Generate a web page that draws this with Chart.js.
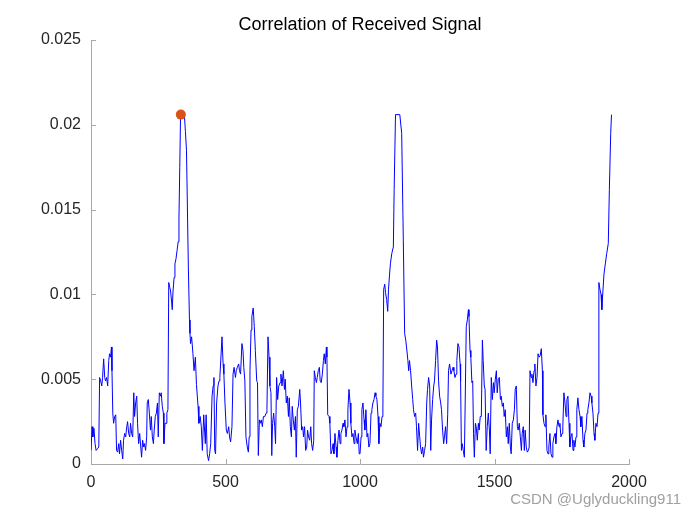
<!DOCTYPE html>
<html>
<head>
<meta charset="utf-8">
<script src="https://cdn.jsdelivr.net/npm/chart.js@4.4.1/dist/chart.umd.min.js"></script>
<style>
  html, body { margin: 0; padding: 0; background: #fff; }
  #wrap { width: 694px; height: 520px; }
</style>
</head>
<body>
<div id="wrap"><canvas id="corr-chart"></canvas></div>
<script>
// Correlation of received signal (values in units of 1e-3)
const SAMPLE_IDX = [
  0, 4, 7, 11, 15, 19, 24, 29, 32, 36, 40, 43, 47, 51, 54, 58, 62, 66, 69, 73,
  76, 78, 81, 84, 88, 92, 95, 99, 103, 106, 110, 114, 118, 121, 125, 129, 133, 136, 140, 144,
  147, 151, 155, 159, 162, 166, 170, 173, 177, 181, 185, 188, 192, 196, 199, 203, 207, 209, 213, 217,
  221, 224, 228, 232, 235, 239, 243, 247, 250, 254, 258, 261, 265, 269, 271, 275, 279, 282, 286, 289,
  293, 296, 300, 302, 305, 309, 312, 316, 320, 324, 327, 330, 333, 347, 351, 355, 359, 362, 366, 368,
  370, 374, 379, 383, 388, 392, 398, 401, 406, 410, 414, 419, 425, 428, 432, 437, 441, 445, 450, 454,
  457, 460, 463, 467, 472, 476, 479, 483, 487, 491, 494, 498, 503, 507, 512, 515, 519, 524, 528, 532,
  537, 540, 544, 549, 552, 556, 561, 565, 568, 572, 576, 581, 585, 588, 591, 595, 598, 603, 607, 611,
  616, 619, 622, 626, 629, 633, 637, 641, 646, 651, 654, 658, 662, 665, 669, 672, 675, 679, 683, 686,
  690, 694, 698, 703, 706, 710, 715, 719, 722, 726, 730, 734, 737, 741, 745, 748, 752, 756, 760, 763,
  767, 771, 776, 779, 783, 787, 790, 794, 798, 802, 805, 809, 813, 817, 820, 824, 828, 830, 834, 838,
  841, 845, 849, 852, 856, 860, 864, 867, 871, 875, 877, 880, 885, 888, 892, 896, 900, 903, 907, 911,
  914, 918, 922, 926, 929, 933, 937, 940, 944, 948, 952, 955, 959, 963, 966, 970, 974, 978, 981, 985,
  990, 994, 997, 1000, 1004, 1007, 1011, 1015, 1018, 1022, 1026, 1029, 1033, 1037, 1041, 1044, 1048, 1052, 1056, 1059,
  1063, 1067, 1070, 1074, 1078, 1082, 1085, 1088, 1092, 1095, 1099, 1103, 1106, 1110, 1113, 1118, 1124, 1127, 1132, 1148,
  1155, 1161, 1166, 1170, 1173, 1178, 1181, 1184, 1188, 1192, 1196, 1199, 1203, 1207, 1210, 1214, 1218, 1222, 1225, 1229,
  1233, 1236, 1240, 1244, 1248, 1251, 1255, 1259, 1263, 1266, 1270, 1274, 1277, 1281, 1285, 1288, 1292, 1296, 1300, 1303,
  1307, 1311, 1314, 1318, 1322, 1326, 1329, 1333, 1338, 1342, 1346, 1349, 1353, 1357, 1360, 1364, 1368, 1372, 1374, 1377,
  1380, 1384, 1388, 1391, 1395, 1399, 1403, 1405, 1409, 1412, 1416, 1419, 1422, 1425, 1429, 1432, 1436, 1440, 1443, 1447,
  1451, 1455, 1458, 1462, 1465, 1469, 1473, 1477, 1481, 1484, 1488, 1492, 1496, 1499, 1503, 1507, 1510, 1514, 1518, 1522,
  1525, 1529, 1533, 1536, 1540, 1544, 1548, 1551, 1555, 1559, 1562, 1566, 1570, 1574, 1577, 1581, 1585, 1588, 1592, 1596,
  1600, 1603, 1607, 1611, 1614, 1618, 1622, 1626, 1629, 1632, 1636, 1639, 1643, 1647, 1650, 1654, 1658, 1662, 1666, 1670,
  1674, 1678, 1680, 1684, 1688, 1691, 1695, 1699, 1702, 1706, 1710, 1714, 1717, 1721, 1725, 1728, 1732, 1736, 1740, 1743,
  1747, 1751, 1754, 1758, 1762, 1766, 1769, 1773, 1777, 1780, 1784, 1788, 1792, 1795, 1799, 1803, 1806, 1810, 1814, 1818,
  1821, 1825, 1829, 1832, 1836, 1840, 1844, 1847, 1851, 1855, 1859, 1862, 1866, 1870, 1873, 1877, 1881, 1885, 1888, 1892,
  1896, 1899, 1903, 1907, 1912, 1917, 1923, 1927, 1932, 1935
];
const CORR_MILLI = [
  0.8, 2.2, 1.6, 2.1, 1.2, 0.8, 0.9, 1.0, 5.1, 4.9, 4.6, 5.1, 6.2, 5.1, 4.9, 5.1, 4.6, 6.1, 6.5, 6.3,
  6.9, 5.5, 3.0, 2.4, 2.8, 2.9, 0.8, 0.7, 1.2, 0.6, 1.4, 0.8, 0.3, 1.4, 1.8, 1.6, 2.2, 2.5, 1.8, 1.6,
  2.4, 1.8, 1.6, 4.2, 2.8, 3.6, 4.0, 2.4, 1.2, 1.8, 1.0, 0.4, 1.4, 1.0, 1.2, 0.8, 1.6, 3.6, 3.8, 3.0,
  2.0, 2.8, 1.6, 1.2, 2.0, 2.8, 3.0, 3.6, 1.6, 4.2, 4.0, 4.2, 3.4, 3.0, 1.2, 2.4, 2.4, 3.0, 3.2, 10.7,
  10.4, 10.2, 9.5, 9.1, 10.2, 11.0, 11.8, 12.1, 12.6, 13.1, 14.5, 17.5, 20.6, 20.6, 19.6, 18.5, 14.5, 11.5, 8.5, 7.7,
  7.1, 7.5, 6.5, 5.5, 6.3, 4.7, 3.4, 2.4, 2.8, 2.2, 0.8, 2.9, 1.2, 2.9, 0.6, 0.2, 0.6, 1.2, 4.0, 4.6,
  5.1, 0.8, 0.6, 3.6, 4.6, 4.9, 5.1, 6.3, 7.5, 5.9, 5.3, 3.6, 2.0, 1.8, 2.2, 1.6, 1.3, 2.2, 5.3, 5.7,
  5.1, 5.5, 5.7, 5.9, 5.5, 5.3, 7.1, 6.7, 5.7, 4.9, 1.6, 1.0, 0.7, 1.6, 5.5, 7.9, 8.7, 9.2, 8.1, 6.7,
  4.9, 4.8, 0.5, 2.6, 2.4, 2.6, 2.2, 2.8, 2.8, 3.0, 3.2, 7.5, 6.3, 4.6, 4.2, 0.5, 2.4, 3.0, 2.2, 1.2,
  5.1, 3.8, 4.6, 4.8, 5.3, 4.6, 5.5, 4.4, 5.0, 3.6, 4.0, 2.8, 3.9, 2.2, 1.6, 3.4, 2.6, 2.0, 2.8, 0.4,
  3.2, 3.4, 4.4, 3.6, 2.0, 2.2, 1.6, 2.2, 0.8, 1.0, 2.0, 1.6, 1.4, 2.2, 1.2, 0.8, 1.4, 5.5, 5.1, 4.8,
  5.1, 5.5, 5.7, 4.9, 4.8, 5.3, 6.1, 6.5, 5.9, 6.9, 6.3, 2.9, 2.8, 2.4, 0.6, 0.8, 1.2, 0.6, 1.8, 1.0,
  0.4, 1.4, 2.0, 1.2, 1.8, 2.0, 2.4, 2.2, 2.6, 1.6, 2.2, 3.2, 4.4, 3.6, 2.4, 1.6, 1.8, 1.2, 2.0, 1.6,
  1.2, 1.8, 0.6, 0.6, 1.6, 3.2, 3.6, 2.6, 2.0, 3.2, 1.6, 1.8, 1.0, 1.2, 3.0, 3.2, 3.6, 3.8, 4.2, 4.0,
  3.8, 2.8, 1.2, 2.4, 2.2, 2.8, 3.0, 10.3, 10.6, 10.1, 9.7, 9.0, 10.3, 11.2, 11.8, 12.4, 12.8, 16.2, 20.6, 20.6,
  19.5, 13.2, 7.7, 7.3, 6.9, 6.1, 5.5, 6.1, 5.5, 4.6, 3.8, 3.2, 2.8, 3.0, 2.2, 0.8, 2.4, 1.6, 1.0, 0.6,
  1.0, 0.4, 0.8, 1.2, 3.6, 4.4, 5.1, 4.6, 0.8, 2.6, 3.8, 4.6, 4.9, 6.1, 7.3, 6.9, 4.9, 4.0, 3.6, 3.2,
  2.0, 1.2, 1.6, 2.2, 1.2, 2.9, 5.5, 5.9, 5.3, 5.5, 5.7, 5.5, 5.1, 5.3, 6.1, 7.1, 6.9, 5.9, 4.9, 0.8,
  1.2, 0.8, 0.4, 3.6, 8.1, 8.5, 9.1, 8.7, 6.7, 6.3, 4.8, 4.9, 1.8, 0.4, 2.4, 2.2, 1.4, 2.4, 2.0, 2.8,
  2.8, 7.3, 6.1, 4.6, 4.4, 0.8, 2.2, 3.0, 2.0, 0.6, 5.1, 3.8, 4.8, 4.2, 5.0, 5.5, 4.2, 5.0, 5.1, 3.8,
  4.0, 3.4, 3.6, 2.8, 3.2, 1.6, 2.2, 1.2, 2.4, 1.0, 0.6, 2.4, 2.6, 3.2, 4.4, 4.6, 2.2, 2.0, 2.4, 1.6,
  0.8, 1.8, 2.2, 0.8, 2.0, 1.0, 0.7, 0.8, 1.0, 5.5, 5.1, 5.3, 4.8, 5.5, 5.9, 4.6, 5.1, 6.5, 6.3, 6.4,
  6.8, 5.5, 2.9, 2.4, 2.2, 2.9, 0.8, 0.6, 1.0, 1.8, 0.6, 0.4, 1.2, 1.6, 1.8, 1.2, 2.2, 2.6, 2.2, 2.4,
  1.6, 1.8, 2.2, 4.2, 3.6, 2.8, 3.8, 4.0, 2.4, 1.0, 1.6, 1.8, 0.8, 1.4, 1.0, 1.6, 3.2, 3.9, 3.2, 2.8,
  2.2, 2.8, 1.4, 1.0, 1.8, 2.0, 3.0, 3.2, 3.6, 4.2, 4.0, 3.6, 3.0, 1.8, 1.4, 2.4, 2.2, 3.0, 10.7, 10.3,
  10.0, 9.1, 10.2, 11.2, 11.8, 12.4, 13.0, 16.2, 19.5, 20.6
];
// marked maximum
const PEAK_IDX = [334];
const PEAK_MILLI = [20.6];

const X_TICKS = [0, 500, 1000, 1500, 2000];
const X_TICK_LABELS = ["0", "500", "1000", "1500", "2000"];
const Y_TICKS = [0, 0.005, 0.01, 0.015, 0.02, 0.025];
const Y_TICK_LABELS = ["0", "0.005", "0.01", "0.015", "0.02", "0.025"];

const AXIS_COLOR = "#a8a8a8";
const TEXT_COLOR = "#262626";
const FONT = "'Liberation Sans', Arial, sans-serif";

// MATLAB style: ticks point into the plot, title and watermark drawn by hand
const matlabBits = {
  id: "matlabBits",
  afterDraw(chart) {
    const ctx = chart.ctx;
    const x = chart.scales.x, y = chart.scales.y;
    const area = chart.chartArea;
    ctx.save();
    ctx.strokeStyle = AXIS_COLOR;
    ctx.lineWidth = 1;
    ctx.beginPath();
    X_TICKS.forEach(v => {
      const px = Math.round(x.getPixelForValue(v)) + 0.5;
      ctx.moveTo(px, area.bottom);
      ctx.lineTo(px, area.bottom - 5);
    });
    Y_TICKS.forEach(v => {
      const py = Math.round(y.getPixelForValue(v)) + 0.5;
      ctx.moveTo(area.left, py);
      ctx.lineTo(area.left + 5, py);
    });
    ctx.stroke();

    ctx.fillStyle = "#000";
    ctx.font = "18px " + FONT;
    ctx.textAlign = "center";
    ctx.textBaseline = "middle";
    ctx.fillText("Correlation of Received Signal", (area.left + area.right) / 2, 25);

    ctx.fillStyle = "#a0a0a0";
    ctx.font = "15px " + FONT;
    ctx.textAlign = "right";
    ctx.fillText("CSDN @Uglyduckling911", 681, 500);
    ctx.restore();
  }
};

const ctx = document.getElementById("corr-chart").getContext("2d");
new Chart(ctx, {
  type: "line",
  data: {
    datasets: [
      {
        label: "peak",
        data: PEAK_IDX.map((v, i) => ({ x: v, y: PEAK_MILLI[i] * 1e-3 })),
        showLine: false,
        pointRadius: 5,
        pointBackgroundColor: "#D95319",
        pointBorderColor: "#D95319",
        pointBorderWidth: 0
      },
      {
        label: "corr",
        data: SAMPLE_IDX.map((v, i) => ({ x: v, y: CORR_MILLI[i] * 1e-3 })),
        borderColor: "#0000ff",
        borderWidth: 1,
        pointRadius: 0,
        tension: 0,
        fill: false
      }
    ]
  },
  options: {
    responsive: true,
    maintainAspectRatio: false,
    animation: false,
    layout: { padding: { left: 0, right: 65, top: 40, bottom: 0 } },
    plugins: {
      legend: { display: false },
      title: { display: false },
      tooltip: { enabled: false }
    },
    scales: {
      x: {
        type: "linear",
        min: 0,
        max: 2000,
        afterBuildTicks: s => { s.ticks = X_TICKS.map(v => ({ value: v })); },
        afterFit: s => { s.height = 56; },
        grid: { display: false, drawTicks: false },
        border: { display: true, color: AXIS_COLOR, width: 1 },
        ticks: {
          color: TEXT_COLOR,
          font: { family: FONT, size: 16 },
          padding: 9,
          maxRotation: 0,
          callback: (v, i) => X_TICK_LABELS[i]
        }
      },
      y: {
        type: "linear",
        min: 0,
        max: 0.025,
        afterBuildTicks: s => { s.ticks = Y_TICKS.map(v => ({ value: v })); },
        afterFit: s => { s.width = 91; },
        grid: { display: false, drawTicks: false },
        border: { display: true, color: AXIS_COLOR, width: 1 },
        ticks: {
          color: TEXT_COLOR,
          font: { family: FONT, size: 16 },
          padding: 10,
          callback: (v, i) => Y_TICK_LABELS[i]
        }
      }
    }
  },
  plugins: [matlabBits]
});
</script>
</body>
</html>
